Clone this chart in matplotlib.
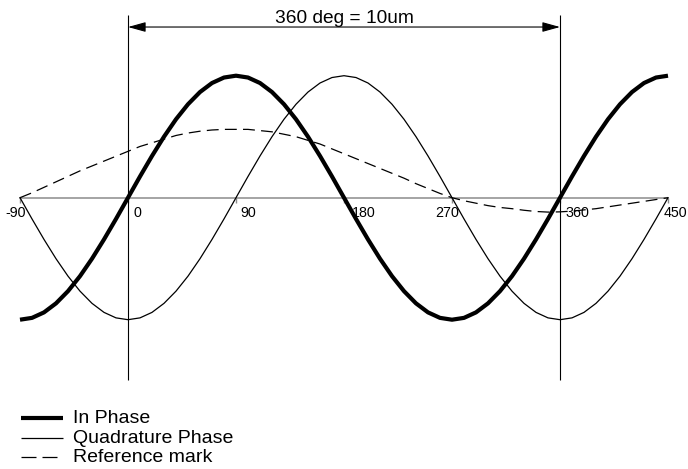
import numpy as np
import matplotlib
matplotlib.use('Agg')
import matplotlib.pyplot as plt
from matplotlib.lines import Line2D

plt.rcParams['font.family'] = ['Liberation Sans', 'DejaVu Sans']

# phase in degrees, one sample every 10 deg
phase = np.arange(-90, 451, 10)

in_phase = [-1.0, -0.985, -0.94, -0.866, -0.766, -0.643, -0.5, -0.342, -0.174,
            0.0, 0.174, 0.342, 0.5, 0.643, 0.766, 0.866, 0.94, 0.985,
            1.0, 0.985, 0.94, 0.866, 0.766, 0.643, 0.5, 0.342, 0.174,
            0.0, -0.174, -0.342, -0.5, -0.643, -0.766, -0.866, -0.94, -0.985,
            -1.0, -0.985, -0.94, -0.866, -0.766, -0.643, -0.5, -0.342, -0.174,
            0.0, 0.174, 0.342, 0.5, 0.643, 0.766, 0.866, 0.94, 0.985, 1.0]

quadrature = [0.0, -0.174, -0.342, -0.5, -0.643, -0.766, -0.866, -0.94, -0.985,
              -1.0, -0.985, -0.94, -0.866, -0.766, -0.643, -0.5, -0.342, -0.174,
              0.0, 0.174, 0.342, 0.5, 0.643, 0.766, 0.866, 0.94, 0.985,
              1.0, 0.985, 0.94, 0.866, 0.766, 0.643, 0.5, 0.342, 0.174,
              0.0, -0.174, -0.342, -0.5, -0.643, -0.766, -0.866, -0.94, -0.985,
              -1.0, -0.985, -0.94, -0.866, -0.766, -0.643, -0.5, -0.342, -0.174, 0.0]

ref_mark = [0.0, 0.04, 0.085, 0.13, 0.175, 0.22, 0.26, 0.30, 0.34,
            0.38, 0.42, 0.45, 0.48, 0.51, 0.53, 0.545, 0.555, 0.56,
            0.56, 0.56, 0.55, 0.54, 0.52, 0.50, 0.47, 0.44, 0.40,
            0.36, 0.32, 0.28, 0.24, 0.20, 0.16, 0.115, 0.075, 0.035,
            0.0, -0.025, -0.045, -0.065, -0.08, -0.09, -0.103, -0.113, -0.118,
            -0.116, -0.11, -0.10, -0.09, -0.075, -0.06, -0.045, -0.03, -0.015, 0.0]

tick_deg = [-90, 0, 90, 180, 270, 360, 450]
tick_labels = ['-90', '0', '90', '180', '270', '360', '450']
label_nudge = [-15, 5, 4, 8, -17, 5, -4]   # px, label left edge vs tick

period_marks = [0, 360]
period_text = '360 deg = 10um'
legend_labels = ['In Phase', 'Quadrature Phase', 'Reference mark']

W, H = 688, 469
fig = plt.figure(figsize=(W / 100, H / 100), dpi=100)
ax = fig.add_axes([0, 0, 1, 1])
ax.set_xlim(-128 / 1.2, (W - 128) / 1.2)
ax.set_ylim((197.7 - H) / 122, 197.7 / 122)
ax.axis('off')

# zero axis and ticks
ax.plot([tick_deg[0], tick_deg[-1]], [0, 0], color='#8c8c8c', lw=1.1, zorder=1)
ax.vlines(tick_deg, -0.04, 0, color='#8c8c8c', lw=1.0, zorder=1)
for d, lab, dx in zip(tick_deg, tick_labels, label_nudge):
    ax.annotate(lab, (d, 0), xytext=(dx, -8), textcoords='offset pixels',
                ha='left', va='top', fontsize=10.3)

# period markers
ax.vlines(period_marks, -1.494, 1.498, color='black', lw=0.8, zorder=2)
ax.annotate('', xy=(period_marks[1], 1.399), xytext=(period_marks[0], 1.399),
            arrowprops=dict(arrowstyle='<|-|>,head_length=1.08,head_width=0.3',
                            mutation_scale=10, color='black', lw=0.8,
                            shrinkA=0, shrinkB=0))
ax.text(np.mean(period_marks), 1.432, period_text, ha='center', va='baseline',
        fontsize=13.8)

# curves
ax.plot(phase, ref_mark, color='black', lw=0.9, dashes=(9.5, 5), zorder=3)
ax.plot(phase, quadrature, color='black', lw=0.9, zorder=3)
ax.plot(phase, in_phase, color='black', lw=3.0, solid_capstyle='butt', zorder=4)

# legend drawn by hand
rows = [417.5, 437.5, 457.0]
styles = [dict(lw=3.0), dict(lw=0.9), dict(lw=0.9, dashes=(12, 4.8))]
for py, lab, st in zip(rows, legend_labels, styles):
    fy = 1 - py / H
    fig.add_artist(Line2D([21 / W, 63 / W], [fy, fy], color='black',
                          solid_capstyle='butt', **st))
    fig.text(73 / W, 1 - (py + 5) / H, lab, ha='left', va='baseline', fontsize=14)

fig.savefig('out.png', dpi=100)
